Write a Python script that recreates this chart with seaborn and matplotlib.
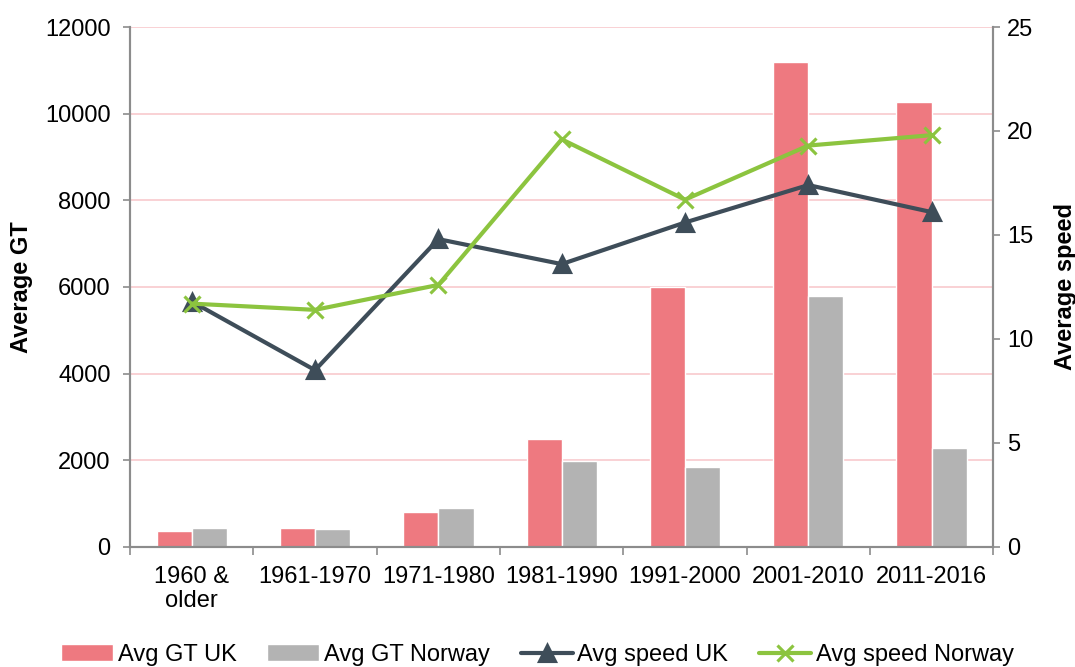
import pandas as pd
import numpy as np
import matplotlib
matplotlib.use("Agg")
import matplotlib.pyplot as plt
import seaborn as sns

# Data
periods = ["1960 &\nolder", "1961-1970", "1971-1980", "1981-1990",
           "1991-2000", "2001-2010", "2011-2016"]
gt_uk = [370, 435, 805, 2490, 6000, 11190, 10270]
gt_norway = [435, 410, 905, 1975, 1845, 5785, 2295]
speed_uk = [11.8, 8.5, 14.8, 13.6, 15.6, 17.4, 16.1]
speed_norway = [11.7, 11.4, 12.6, 19.6, 16.7, 19.3, 19.8]

bar_colors = ["#ee7980", "#b3b3b3"]
line_colors = ["#3e4d59", "#8cc43f"]
grid_color = "#f8c9cd"
spine_color = "#8c8c8c"

sns.set_theme(style="white")
plt.rcParams["font.family"] = ["Liberation Sans", "DejaVu Sans"]
plt.rcParams["text.color"] = "black"
plt.rcParams["axes.labelcolor"] = "black"
plt.rcParams["xtick.color"] = "black"
plt.rcParams["ytick.color"] = "black"

bars = pd.DataFrame({
    "period": periods * 2,
    "gt": gt_uk + gt_norway,
    "series": ["Avg GT UK"] * len(periods) + ["Avg GT Norway"] * len(periods),
})
lines = pd.DataFrame({
    "period": periods * 2,
    "speed": speed_uk + speed_norway,
    "series": ["Avg speed UK"] * len(periods) + ["Avg speed Norway"] * len(periods),
})

fig, ax = plt.subplots(figsize=(10.75, 6.67), dpi=100)
fig.subplots_adjust(left=0.121, right=0.924, top=0.9595, bottom=0.18)

sns.barplot(data=bars, x="period", y="gt", hue="series", palette=bar_colors,
            width=0.57, gap=0, saturation=1, ax=ax, legend=True)

ax.set_ylim(0, 12000)
ax.set_yticks(range(0, 12001, 2000))
ax.yaxis.grid(True, color=grid_color, linewidth=1.2)
ax.set_axisbelow(True)
ax.set_xlim(-0.5, len(periods) - 0.5)
ax.set_xlabel("")
ax.set_ylabel("Average GT", fontsize=17, fontweight="bold")
ax.yaxis.set_label_coords(-0.113, 0.5)

ax2 = ax.twinx()
sns.pointplot(data=lines, x="period", y="speed", hue="series",
              palette=line_colors, markers=["^", "x"], linestyles=["-", "-"],
              errorbar=None, linewidth=3, markersize=11, ax=ax2)
ax2.set_ylim(0, 25)
ax2.set_yticks(range(0, 26, 5))
ax2.set_xlim(-0.5, len(periods) - 0.5)
ax2.set_ylabel("Average speed", fontsize=17, fontweight="bold")
ax2.yaxis.set_label_coords(1.070, 0.5)
ax2.grid(False)

for a in (ax, ax2):
    for s in a.spines.values():
        s.set_color(spine_color)
        s.set_linewidth(1.5)
    a.spines["top"].set_visible(False)
    a.tick_params(axis="y", labelsize=17, length=5, width=1.2,
                  color=spine_color, labelcolor="black", direction="out")

ax.tick_params(axis="y", left=True, right=False, pad=9)
ax2.tick_params(axis="y", right=True, left=False, pad=5)

# x tick marks sit between categories, labels at the centres
ax.set_xticks(np.arange(len(periods)))
ax.set_xticklabels(periods, fontsize=17, linespacing=1.1)
ax.tick_params(axis="x", which="major", length=0, pad=14, labelcolor="black")
ax.set_xticks(np.arange(-0.5, len(periods)), minor=True)
ax.tick_params(axis="x", which="minor", length=6, width=1.2,
               color=spine_color, direction="out", bottom=True)

# combined legend below the chart
h1, l1 = ax.get_legend_handles_labels()
h2, l2 = ax2.get_legend_handles_labels()
ax.get_legend().remove()
if ax2.get_legend() is not None:
    ax2.get_legend().remove()
fig.legend(h1 + h2, l1 + l2, loc="center", bbox_to_anchor=(0.5, 1 - 655 / 667),
           ncol=4, frameon=False, fontsize=17, handlelength=2.2,
           handleheight=0.7, columnspacing=1.3, handletextpad=0.2)

fig.savefig("out.png", dpi=100)
